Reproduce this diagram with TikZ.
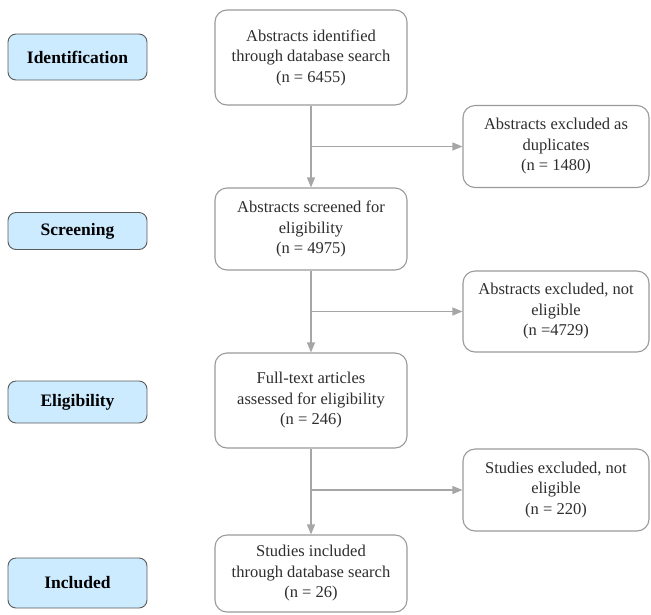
\documentclass[tikz,border=0pt]{standalone}
\usepackage{fontspec}
\setmainfont{Liberation Serif}
\usetikzlibrary{arrows.meta}
\definecolor{linegray}{HTML}{A6A6A6}
\definecolor{boxgray}{HTML}{9A9A9A}
\definecolor{txtgray}{HTML}{2E2E2E}
\definecolor{stagefill}{HTML}{CDEBFF}
\definecolor{stageline}{HTML}{5A5A5A}
\tikzset{
  flowbox/.style={draw=boxgray, line width=1.1pt, rounded corners=12pt, fill=white,
    align=center, text=txtgray, inner sep=2pt,
    font=\fontsize{16.5}{20.5}\selectfont},
  stagebox/.style={draw=stageline, line width=0.9pt, rounded corners=8pt, fill=stagefill,
    align=center, text=black, minimum width=139pt, inner sep=0pt,
    font=\fontsize{17.5}{20}\selectfont\bfseries},
  flowarrow/.style={draw=linegray, line width=1.3pt,
    -{Triangle[length=10pt,width=8pt]}, color=linegray}
}
\begin{document}
\begin{tikzpicture}[x=1pt,y=-1pt]
\useasboundingbox (0,0) rectangle (651,614);
% main column
\node[flowbox, minimum width=192pt, minimum height=95pt] (b1) at (311,57.5)
  {Abstracts identified\\through database search\\(n = 6455)};
\node[flowbox, minimum width=192pt, minimum height=82pt] (b2) at (311,229)
  {Abstracts screened for\\eligibility\\(n = 4975)};
\node[flowbox, minimum width=192pt, minimum height=95pt] (b3) at (311,400.5)
  {Full-text articles\\assessed for eligibility\\(n = 246)};
\node[flowbox, minimum width=192pt, minimum height=77pt] (b4) at (311,573.5)
  {Studies included\\through database search\\(n = 26)};
% excluded column
\node[flowbox, minimum width=186pt, minimum height=82pt] (r1) at (556,146.5)
  {Abstracts excluded as\\duplicates\\(n = 1480)};
\node[flowbox, minimum width=186pt, minimum height=81pt] (r2) at (556,311.5)
  {Abstracts excluded, not\\eligible\\(n =4729)};
\node[flowbox, minimum width=186pt, minimum height=82pt] (r3) at (556,490)
  {Studies excluded, not\\eligible\\(n = 220)};
% stage labels
\node[stagebox, minimum height=46pt] (s1) at (77.5,57) {Identification};
\node[stagebox, minimum height=37pt] (s2) at (77.5,231) {Screening};
\node[stagebox, minimum height=42pt] (s3) at (77.5,402) {Eligibility};
\node[stagebox, minimum height=50pt] (s4) at (77.5,583) {Included};
% connectors
\draw[flowarrow] (b1) -- (b2);
\draw[flowarrow] (b2) -- (b3);
\draw[flowarrow] (b3) -- (b4);
\coordinate (j1) at (b1.south |- r1.west);
\coordinate (j2) at (b2.south |- r2.west);
\coordinate (j3) at (b3.south |- r3.west);
\draw[flowarrow] (j1) -- (r1.west);
\draw[flowarrow] (j2) -- (r2.west);
\draw[flowarrow] (j3) -- (r3.west);
\end{tikzpicture}
\end{document}
